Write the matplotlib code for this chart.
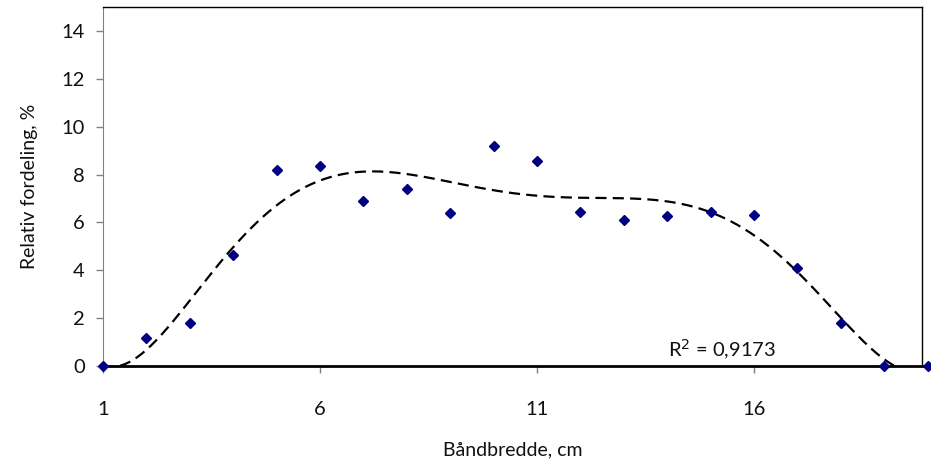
import numpy as np
import matplotlib
matplotlib.use("Agg")
import matplotlib.pyplot as plt

x_vals = list(range(1, 21))
y_vals = [0, 1.15, 1.8, 4.65, 8.2, 8.35, 6.9, 7.4, 6.4, 9.2, 8.55, 6.45, 6.1, 6.25, 6.45, 6.3, 4.1, 1.8, 0, 0]
x_ticks = [1, 6, 11, 16]
y_ticks = [0, 2, 4, 6, 8, 10, 12, 14]

plt.rcParams['font.family'] = ['Lato', 'DejaVu Sans']

W, H = 931, 465
fig = plt.figure(figsize=(W/100, H/100), dpi=100)
left, right, top, bottom = 103, 922, 7, 366
ax = fig.add_axes([left/W, 1-bottom/H, (right-left)/W, (bottom-top)/H])

px_per_unit = (320-103)/5
ax.set_xlim(1, 1 + (right-left)/px_per_unit)
ax.set_ylim(0, 15)

x = np.array(x_vals, float)
y = np.array(y_vals, float)
coef = np.polyfit(x, y, 6)
xs = np.linspace(1, 20, 400)
ys = np.polyval(coef, xs)
ax.plot(xs, ys, color='black', lw=1.6, ls=(0, (5, 2.8)), zorder=2)

ax.plot(x, y, ls='none', marker='D', color='#000080', ms=5.5, zorder=3, clip_on=False)

ax.set_xticks(x_ticks)
ax.set_yticks(y_ticks)
ax.tick_params(axis='both', labelsize=14.5, color='#808080', labelcolor='#111111',
               length=5, width=1, pad=8)
ax.tick_params(axis='x', pad=20)
for s in ['top', 'right']:
    ax.spines[s].set_color('black')
    ax.spines[s].set_linewidth(1)
ax.spines['left'].set_color('#808080')
ax.spines['bottom'].set_visible(False)
ax.plot([1, 20.2], [0, 0], color='black', lw=2, clip_on=False, zorder=2.5)

ax.text(14.02, 0.15, "R$^2$ = 0,9173", fontsize=14.5, va='bottom', ha='left', color='#111111')
ax.set_xlabel("Båndbredde, cm", fontsize=14, labelpad=17, color='#111111')
ax.set_ylabel("Relativ fordeling, %", fontsize=14, labelpad=17, color='#111111')

fig.savefig("out.png", dpi=100)
